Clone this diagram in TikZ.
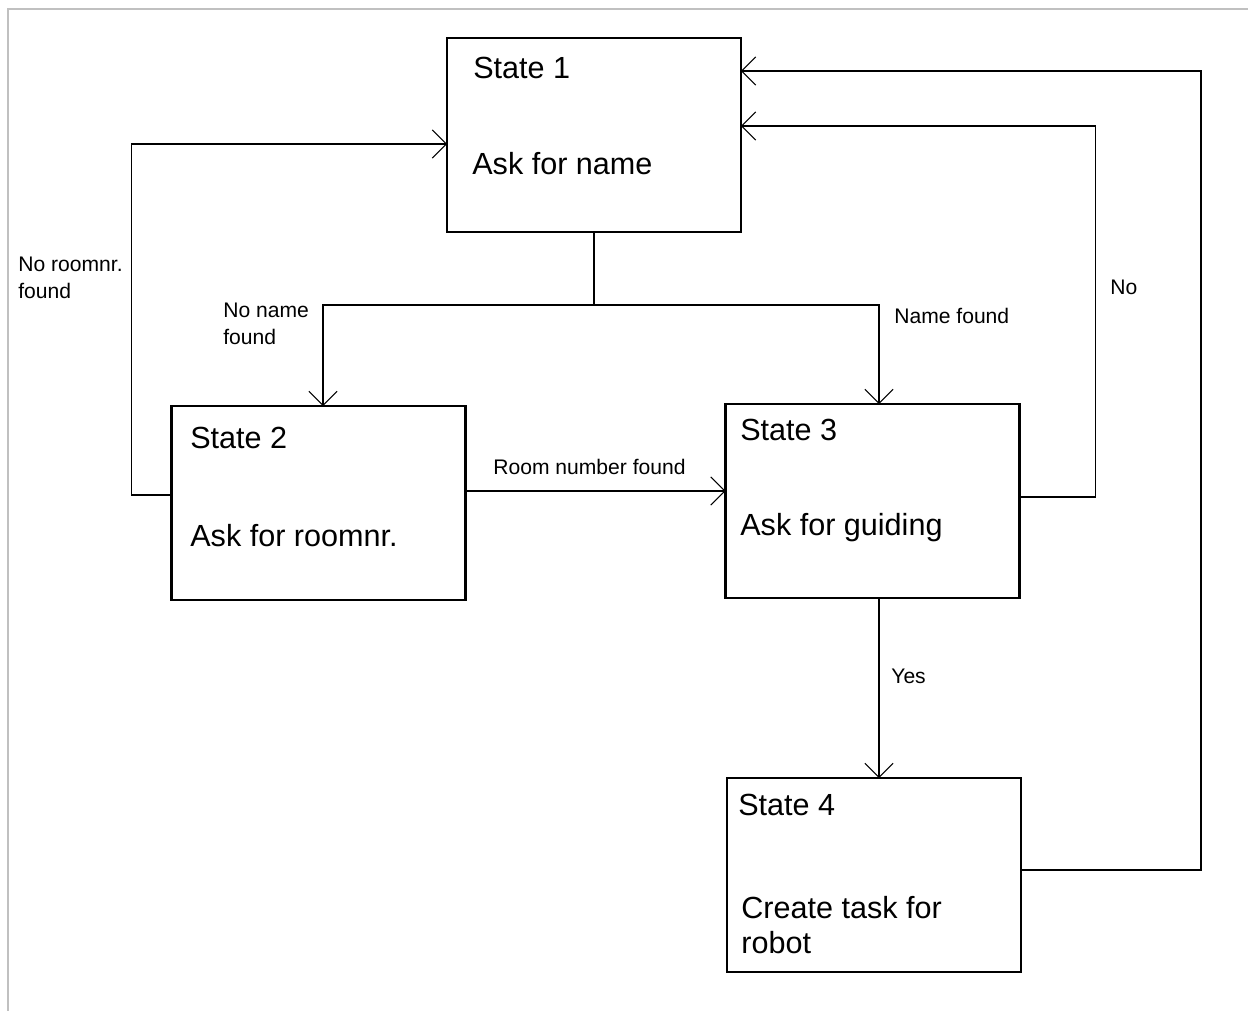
\documentclass[tikz,border=0pt]{standalone}
\usepackage{fontspec}
\setmainfont{Liberation Sans}
\usetikzlibrary{arrows.meta,calc}
\definecolor{FSFrame}{HTML}{C0C0C0}
\definecolor{FSLine}{HTML}{000000}

\begin{document}
\begin{tikzpicture}[x=0.02cm,y=-0.02cm,
  statebox/.style={draw=FSLine,line width=1.2pt,minimum width=5.88cm,minimum height=3.88cm,inner sep=0pt,outer sep=0pt},
  boxtext/.style={anchor=west,align=left,inner sep=0pt,font=\fontsize{17.4}{20}\selectfont},
  edgetext/.style={anchor=west,align=left,inner sep=0pt,font=\fontsize{12}{15.3}\selectfont},
  flow/.style={draw=FSLine,line width=1pt},
  arr/.style={flow,-{Straight Barb[length=8pt,width=16pt,line width=0.6pt]}}]
\path[use as bounding box] (0,0) rectangle (1248,1011);
\draw[FSFrame,line width=1.2pt] (8,1011) -- (8,9) -- (1248,9);
\node[statebox] (s1) at (594,135) {};
\node[statebox] (s2) at (318.5,503) {};
\node[statebox] (s3) at (872.5,501) {};
\node[statebox] (s4) at (874,875) {};
\node[boxtext] (s1title) at (473,68) {State 1};
\node[boxtext] (s1text) at (472,164) {Ask for name};
\node[boxtext] (s2title) at (190,438) {State 2};
\node[boxtext] (s2text) at (190,536) {Ask for roomnr.};
\node[boxtext] (s3title) at (740,430) {State 3};
\node[boxtext] (s3text) at (740,528) {Ask for guiding};
\node[boxtext] (s4title) at (738,805) {State 4};
\node[boxtext] (s4text) at (741,925) {Create task for\\robot};
\coordinate (split) at (594,305);
\draw[flow] (s1.south) -- (split);
\draw[arr] (split) -| ($(s2.north)+(4.5,0)$);
\draw[arr] (split) -| ($(s3.north)+(6.5,0)$);
\draw[arr] ($(s2.west)+(0,-8)$) -- ++(-40,0) |- ($(s1.west)+(0,9)$);
\draw[arr] ($(s2.east)+(0,-12)$) coordinate (r2) -- (r2 -| s3.west);
\draw[arr] ($(s3.east)+(0,-4)$) -- ++(76,0) |- ($(s1.east)+(0,-9)$);
\draw[arr] ($(s3.south)+(6.5,0)$) coordinate (d3) -- (d3 |- s4.north);
\draw[arr] ($(s4.east)+(0,-5)$) -- ++(180,0) |- ($(s1.east)+(0,-64)$);
\node[edgetext] (lroom) at (18,278) {No roomnr.\\found};
\node[edgetext] (lnoname) at (223,324) {No name\\found};
\node[edgetext] (lname) at (894,316) {Name found};
\node[edgetext] (lfound) at (493,467) {Room number found};
\node[edgetext] (lno) at (1110,287) {No};
\node[edgetext] (lyes) at (891,676) {Yes};
\end{tikzpicture}
\end{document}
